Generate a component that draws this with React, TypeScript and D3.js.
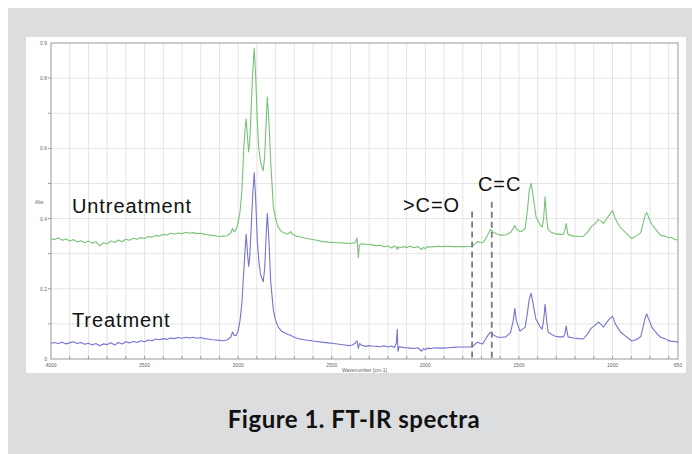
import React from "react";
import * as d3 from "d3";

const wavenumbers = [
  4000, 3980, 3960, 3940, 3920, 3900, 3880, 3860, 3840, 3820, 3800, 3780, 3760, 3740, 3720, 3700,
  3680, 3660, 3640, 3620, 3600, 3580, 3560, 3540, 3520, 3500, 3480, 3460, 3440, 3420, 3400, 3380,
  3360, 3340, 3320, 3300, 3280, 3260, 3240, 3220, 3200, 3180, 3160, 3140, 3120, 3100, 3080, 3060,
  3040, 3030, 3020, 3010, 3000, 2990, 2980, 2970, 2962, 2957, 2950, 2944, 2938, 2930, 2922, 2914,
  2906, 2898, 2890, 2880, 2866, 2858, 2850, 2844, 2836, 2826, 2812, 2800, 2785, 2769, 2750, 2735,
  2720, 2710, 2690, 2670, 2640, 2610, 2580, 2554, 2520, 2490, 2460, 2430, 2409, 2390, 2375, 2365,
  2358, 2352, 2340, 2320, 2300, 2285, 2260, 2240, 2220, 2200, 2180, 2165, 2155, 2150, 2146, 2140,
  2120, 2100, 2080, 2060, 2040, 2020, 2010, 2000, 1990, 1970, 1950, 1930, 1909, 1880, 1850, 1820,
  1790, 1760, 1747, 1735, 1720, 1705, 1694, 1680, 1665, 1651, 1635, 1613, 1590, 1570, 1545, 1530,
  1522, 1514, 1495, 1480, 1467, 1455, 1445, 1435, 1425, 1415, 1409, 1395, 1385, 1376, 1368, 1360,
  1352, 1344, 1325, 1306, 1285, 1263, 1255, 1247, 1240, 1237, 1210, 1180, 1156, 1135, 1113, 1095,
  1075, 1060, 1048, 1030, 1015, 1000, 985, 970, 957, 930, 910, 898, 875, 860, 849, 835,
  825, 817, 808, 800, 790, 770, 755, 742, 720, 705, 688, 670, 650,
];

const untreatment = [
  0.343, 0.340, 0.345, 0.338, 0.342, 0.336, 0.340, 0.333, 0.337, 0.331, 0.336, 0.330, 0.334, 0.322, 0.331, 0.328,
  0.336, 0.332, 0.339, 0.334, 0.341, 0.338, 0.344, 0.341, 0.346, 0.343, 0.349, 0.347, 0.352, 0.350, 0.355, 0.353,
  0.358, 0.356, 0.359, 0.357, 0.361, 0.358, 0.360, 0.357, 0.358, 0.355, 0.354, 0.352, 0.351, 0.349, 0.350, 0.351,
  0.358, 0.372, 0.362, 0.370, 0.390, 0.420, 0.480, 0.600, 0.660, 0.684, 0.630, 0.590, 0.620, 0.720, 0.820, 0.885,
  0.800, 0.680, 0.600, 0.560, 0.536, 0.580, 0.680, 0.746, 0.680, 0.560, 0.434, 0.400, 0.375, 0.363, 0.358, 0.356,
  0.363, 0.355, 0.350, 0.348, 0.344, 0.341, 0.338, 0.335, 0.333, 0.332, 0.331, 0.330, 0.329, 0.330, 0.331, 0.345,
  0.289, 0.325, 0.328, 0.327, 0.326, 0.325, 0.323, 0.324, 0.320, 0.322, 0.316, 0.322, 0.318, 0.312, 0.320, 0.316,
  0.320, 0.318, 0.321, 0.317, 0.320, 0.312, 0.318, 0.314, 0.320, 0.319, 0.320, 0.321, 0.320, 0.321, 0.320, 0.320,
  0.320, 0.321, 0.322, 0.328, 0.335, 0.332, 0.331, 0.340, 0.355, 0.369, 0.360, 0.355, 0.352, 0.354, 0.360, 0.372,
  0.380, 0.370, 0.363, 0.365, 0.372, 0.420, 0.480, 0.500, 0.470, 0.430, 0.406, 0.390, 0.380, 0.376, 0.400, 0.462,
  0.400, 0.369, 0.360, 0.357, 0.355, 0.355, 0.365, 0.386, 0.360, 0.355, 0.350, 0.349, 0.349, 0.360, 0.377, 0.385,
  0.397, 0.392, 0.386, 0.400, 0.412, 0.423, 0.400, 0.385, 0.374, 0.360, 0.350, 0.343, 0.350, 0.355, 0.360, 0.390,
  0.410, 0.417, 0.405, 0.395, 0.383, 0.370, 0.360, 0.352, 0.350, 0.346, 0.346, 0.342, 0.338,
];

const treatment = [
  0.045, 0.047, 0.044, 0.048, 0.043, 0.046, 0.049, 0.044, 0.047, 0.042, 0.045, 0.040, 0.044, 0.038, 0.043, 0.041,
  0.046, 0.040, 0.047, 0.043, 0.049, 0.046, 0.050, 0.047, 0.052, 0.049, 0.054, 0.052, 0.057, 0.055, 0.058, 0.056,
  0.060, 0.058, 0.061, 0.059, 0.062, 0.060, 0.062, 0.059, 0.061, 0.058, 0.057, 0.055, 0.054, 0.053, 0.052, 0.054,
  0.062, 0.077, 0.066, 0.068, 0.080, 0.110, 0.160, 0.250, 0.320, 0.355, 0.300, 0.264, 0.290, 0.380, 0.470, 0.530,
  0.450, 0.340, 0.280, 0.240, 0.220, 0.260, 0.360, 0.415, 0.340, 0.220, 0.140, 0.110, 0.090, 0.080, 0.074, 0.070,
  0.068, 0.064, 0.060, 0.057, 0.054, 0.052, 0.050, 0.048, 0.046, 0.044, 0.042, 0.040, 0.038, 0.040, 0.045, 0.052,
  0.030, 0.044, 0.039, 0.036, 0.038, 0.037, 0.036, 0.035, 0.038, 0.034, 0.037, 0.033, 0.045, 0.085, 0.022, 0.035,
  0.033, 0.032, 0.031, 0.030, 0.032, 0.022, 0.030, 0.026, 0.031, 0.030, 0.032, 0.031, 0.031, 0.032, 0.033, 0.034,
  0.034, 0.034, 0.035, 0.042, 0.048, 0.044, 0.043, 0.055, 0.068, 0.077, 0.068, 0.062, 0.062, 0.063, 0.075, 0.110,
  0.144, 0.110, 0.080, 0.085, 0.090, 0.130, 0.170, 0.187, 0.160, 0.130, 0.113, 0.100, 0.090, 0.085, 0.110, 0.156,
  0.110, 0.077, 0.070, 0.065, 0.063, 0.063, 0.070, 0.094, 0.070, 0.063, 0.060, 0.058, 0.057, 0.070, 0.088, 0.095,
  0.105, 0.098, 0.091, 0.105, 0.115, 0.122, 0.100, 0.088, 0.077, 0.065, 0.057, 0.051, 0.055, 0.060, 0.064, 0.095,
  0.118, 0.128, 0.115, 0.105, 0.091, 0.077, 0.068, 0.062, 0.058, 0.053, 0.051, 0.050, 0.048,
];

const xTickLabels = [4000, 3500, 3000, 2500, 2000, 1500, 1000, 650];
const yTickLabels = [0, 0.2, 0.4, 0.6, 0.8, 0.9];
const seriesLabels = ["Untreatment", "Treatment"];
const markerWavenumbers = [1750, 1645];
const markerLabels = [">C=O", "C=C"];
const caption = "Figure 1. FT-IR spectra";

const W = 692;
const H = 454;
const plot = { left: 51, right: 678, top: 43, bottom: 359 };

export default function App() {
  const x = d3.scaleLinear().domain([4000, 650]).range([plot.left, plot.right]);
  const y = d3.scaleLinear().domain([0, 0.9]).range([plot.bottom, plot.top]);

  const line = d3
    .line<number>()
    .x((_, i) => x(wavenumbers[i]))
    .y((v) => y(v));

  const xGrid = d3.range(3900, 650, -100);
  const yGrid = d3.range(1, 9).map((v) => v / 10);
  const xMinor = d3.range(3900, 650, -100);

  const tickFont = "Liberation Sans, Arial, sans-serif";
  const labelFont = "Liberation Sans, Arial, Helvetica, sans-serif";

  const markerTops = [y(0.42), y(0.448)];

  return (
    <div style={{ position: "absolute", left: 0, top: 0 }}>
      <svg width={W} height={H} style={{ display: "block" }}>
        <rect x={0} y={0} width={W} height={H} fill="#ffffff" />
        <rect x={8} y={8} width={W - 8} height={H - 8} fill="#dcdddf" />
        <rect x={26} y={37} width={660} height={336} fill="#ffffff" />

        {xGrid.map((g) => (
          <line key={"xg" + g} x1={x(g)} x2={x(g)} y1={plot.top} y2={plot.bottom} stroke="#e4e4e4" strokeWidth={1} />
        ))}
        {yGrid.map((g) => (
          <line key={"yg" + g} x1={plot.left} x2={plot.right} y1={y(g)} y2={y(g)} stroke="#e4e4e4" strokeWidth={1} />
        ))}

        <rect
          x={plot.left}
          y={plot.top}
          width={plot.right - plot.left}
          height={plot.bottom - plot.top}
          fill="none"
          stroke="#a8a8a8"
          strokeWidth={1.2}
        />

        {xMinor.map((g) => (
          <line key={"xt" + g} x1={x(g)} x2={x(g)} y1={plot.bottom} y2={plot.bottom - 3} stroke="#999" strokeWidth={1} />
        ))}
        {yGrid.map((g) => (
          <line key={"yt" + g} x1={plot.left} x2={plot.left - 3} y1={y(g)} y2={y(g)} stroke="#999" strokeWidth={1} />
        ))}

        {xTickLabels.map((t) => (
          <text key={"xl" + t} x={x(t)} y={plot.bottom + 8} fontSize={5} fill="#666" textAnchor="middle" fontFamily={tickFont}>
            {t}
          </text>
        ))}
        {yTickLabels.map((t) => (
          <text key={"yl" + t} x={plot.left - 4} y={y(t) + 2} fontSize={5} fill="#666" textAnchor="end" fontFamily={tickFont}>
            {t}
          </text>
        ))}
        <text x={35} y={204} fontSize={5} fill="#666" fontFamily={tickFont}>
          Abs
        </text>
        <text x={342} y={372} fontSize={5} fill="#666" fontFamily={tickFont}>
          Wavenumber [cm-1]
        </text>

        <path d={line(untreatment) || ""} fill="none" stroke="#79c279" strokeWidth={1.1} strokeLinejoin="round" />
        <path d={line(treatment) || ""} fill="none" stroke="#7474cf" strokeWidth={1.1} strokeLinejoin="round" />

        {markerWavenumbers.map((m, i) => (
          <line
            key={"m" + m}
            x1={x(m)}
            x2={x(m)}
            y1={markerTops[i]}
            y2={plot.bottom}
            stroke="#7a7a7a"
            strokeWidth={1.8}
            strokeDasharray="6,4"
          />
        ))}

        <text x={72} y={213} fontSize={20} letterSpacing={0.9} fill="#111" fontFamily={labelFont}>
          {seriesLabels[0]}
        </text>
        <text x={72} y={327} fontSize={20} letterSpacing={0.9} fill="#111" fontFamily={labelFont}>
          {seriesLabels[1]}
        </text>
        <text x={403} y={212} fontSize={20} letterSpacing={0.9} fill="#111" fontFamily={labelFont}>
          {markerLabels[0]}
        </text>
        <text x={478} y={191} fontSize={20} letterSpacing={0.9} fill="#111" fontFamily={labelFont}>
          {markerLabels[1]}
        </text>

        <text x={354} y={428} fontSize={24} letterSpacing={0.5} fontWeight={700} fill="#111" textAnchor="middle" fontFamily="Lato, 'Open Sans', sans-serif">
          {caption}
        </text>
      </svg>
    </div>
  );
}
